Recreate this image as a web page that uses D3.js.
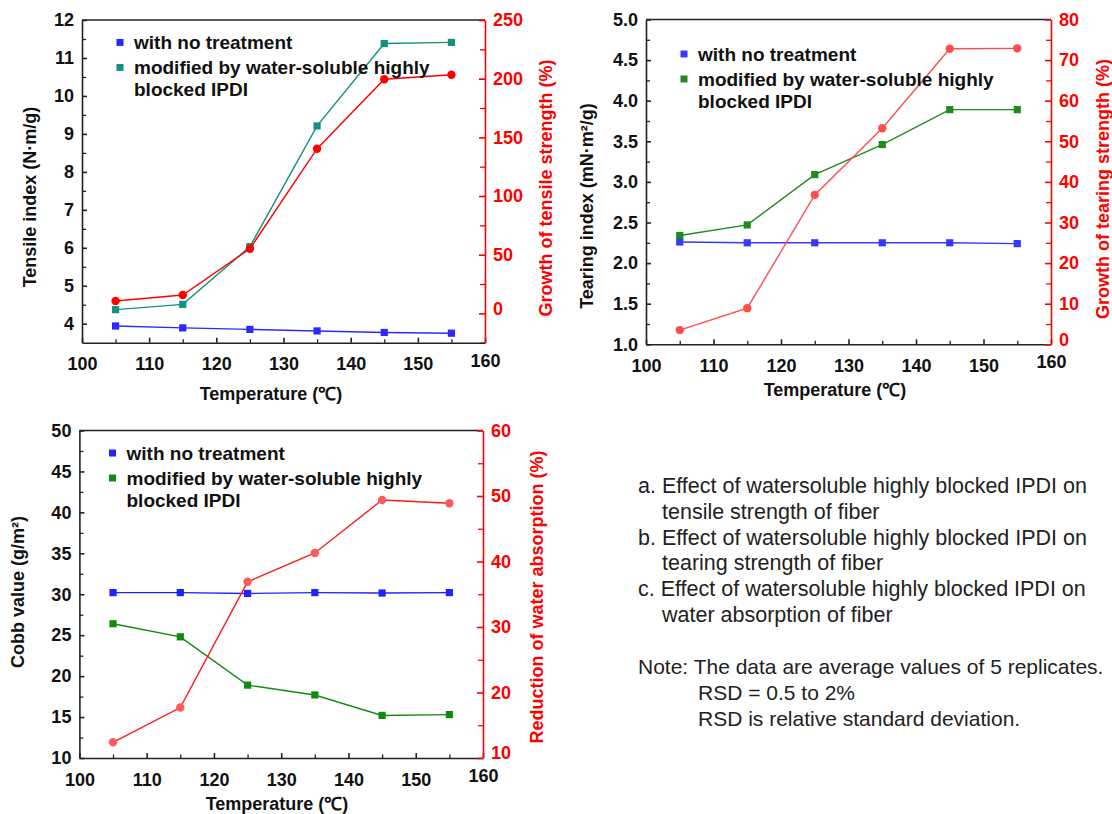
<!DOCTYPE html>
<html>
<head>
<meta charset="utf-8">
<script src="https://cdn.jsdelivr.net/npm/d3@7"></script>
<style>
  body { margin: 0; background: #fff; overflow: hidden; }
  svg { display: block; }
  text { font-family: "Liberation Sans", Arial, sans-serif; }
</style>
</head>
<body>
<div id="chart"></div>
<script>
const width = 1112;
const height = 814;

// data
const temps = [105, 115, 125, 135, 145, 155];

const tensileUntreated = [3.94, 3.89, 3.85, 3.81, 3.77, 3.75];
const tensileModified = [4.37, 4.51, 6.03, 9.21, 11.38, 11.41];
const tensileGrowth = [10.5, 15.6, 55.1, 140.3, 199.5, 203.4];

const tearingUntreated = [2.26, 2.25, 2.25, 2.25, 2.25, 2.24];
const tearingModified = [2.34, 2.47, 3.09, 3.46, 3.89, 3.89];
const tearingGrowth = [3.5, 8.9, 36.8, 53.2, 72.8, 72.9];

const cobbUntreated = [30.2, 30.2, 30.1, 30.2, 30.15, 30.2];
const cobbModified = [26.4, 24.8, 18.9, 17.7, 15.2, 15.3];
const absorptionReduction = [12.4, 17.7, 36.9, 41.3, 49.4, 48.9];

const xTicks = [100, 110, 120, 130, 140, 150, 160];
const tensileTicks = [4, 5, 6, 7, 8, 9, 10, 11, 12];
const tensileGrowthTicks = [0, 50, 100, 150, 200, 250];
const tearingTicks = [1.0, 1.5, 2.0, 2.5, 3.0, 3.5, 4.0, 4.5, 5.0];
const tearingGrowthTicks = [0, 10, 20, 30, 40, 50, 60, 70, 80];
const cobbTicks = [10, 15, 20, 25, 30, 35, 40, 45, 50];
const absorptionTicks = [10, 20, 30, 40, 50, 60];

const legendLabels = ["with no treatment", "modified by water-soluble highly", "blocked IPDI"];

const notes = [
  {t: "a. Effect of watersoluble highly blocked IPDI on", x: 638},
  {t: "tensile strength of fiber", x: 662},
  {t: "b. Effect of watersoluble highly blocked IPDI on", x: 638},
  {t: "tearing strength of fiber", x: 662},
  {t: "c. Effect of watersoluble highly blocked IPDI on", x: 638},
  {t: "water absorption of fiber", x: 662}
];
const noteLines = [
  {t: "Note: The data are average values of 5 replicates.", x: 638},
  {t: "RSD = 0.5 to 2%", x: 698},
  {t: "RSD is relative standard deviation.", x: 698}
];

const svg = d3.select("#chart").append("svg")
  .attr("width", width)
  .attr("height", height);

function drawPanel(p) {
  const g = svg.append("g");

  const x = d3.scaleLinear().domain([100, 160]).range([p.left, p.right]);
  const yL = d3.scaleLinear().domain(p.yLDomain).range([p.bottom, p.top]);
  const yR = d3.scaleLinear().domain(p.yRDomain).range([p.bottom, p.top]);

  // top border
  g.append("line")
    .attr("x1", p.left).attr("x2", p.right)
    .attr("y1", p.top).attr("y2", p.top)
    .attr("stroke", "#222").attr("stroke-width", 1.6);

  // minor ticks
  g.append("g")
    .attr("transform", `translate(0,${p.bottom})`)
    .call(d3.axisBottom(x).tickValues(d3.range(105, 160, 10)).tickSize(-3.5).tickSizeOuter(0).tickFormat(""))
    .call(a => a.select(".domain").remove())
    .call(a => a.selectAll("line").attr("stroke", "#222").attr("stroke-width", 1.3));
  g.append("g")
    .attr("transform", `translate(${p.left},0)`)
    .call(d3.axisLeft(yL).tickValues(p.yLMinor).tickSize(-4).tickFormat(""))
    .call(a => a.select(".domain").remove())
    .call(a => a.selectAll("line").attr("stroke", "#222").attr("stroke-width", 1.3));
  g.append("g")
    .attr("transform", `translate(${p.right},0)`)
    .call(d3.axisRight(yR).tickValues(p.yRMinor).tickSize(-5).tickFormat(""))
    .call(a => a.select(".domain").remove())
    .call(a => a.selectAll("line").attr("stroke", "red").attr("stroke-width", 1.3));

  // major axes
  const xAxis = g.append("g")
    .attr("transform", `translate(0,${p.bottom})`)
    .call(d3.axisBottom(x).tickValues(xTicks).tickSize(-5).tickSizeOuter(0).tickPadding(15));
  xAxis.selectAll("line, path").attr("stroke", "#222").attr("stroke-width", 1.6);
  xAxis.selectAll("text").attr("fill", "#111")
    .style("font-size", "18px").style("font-weight", "bold")
    .attr("dy", d => d === 160 ? "0.5em" : "0.71em");

  const yAxisL = g.append("g")
    .attr("transform", `translate(${p.left},0)`)
    .call(d3.axisLeft(yL).tickValues(p.yLTicks).tickSize(-5).tickSizeOuter(0).tickPadding(8).tickFormat(p.yLFormat));
  yAxisL.selectAll("line, path").attr("stroke", "#222").attr("stroke-width", 1.6);
  yAxisL.selectAll("text").attr("fill", "#111").style("font-size", "18px").style("font-weight", "bold");

  const yAxisR = g.append("g")
    .attr("transform", `translate(${p.right},0)`)
    .call(d3.axisRight(yR).tickValues(p.yRTicks).tickSize(-6).tickSizeOuter(0).tickPadding(8));
  yAxisR.selectAll("line, path").attr("stroke", "red").attr("stroke-width", 1.6);
  yAxisR.selectAll("text").attr("fill", "red").style("font-size", "18px").style("font-weight", "bold")
    .attr("dy", (d, i) => i === 0 ? "0.05em" : "0.32em");

  // axis titles
  g.append("text")
    .attr("x", p.xTitle[0]).attr("y", p.xTitle[1])
    .attr("text-anchor", "middle")
    .style("font-size", "18px").style("font-weight", "bold").attr("fill", "#111")
    .text("Temperature (℃)");
  g.append("text")
    .attr("transform", `translate(${p.yLTitle[0]},${p.yLTitle[1]}) rotate(-90)`)
    .attr("text-anchor", "middle").attr("dy", "0.35em")
    .style("font-size", "18px").style("font-weight", "bold").attr("fill", "#111")
    .text(p.yLLabel);
  g.append("text")
    .attr("transform", `translate(${p.yRTitle[0]},${p.yRTitle[1]}) rotate(-90)`)
    .attr("text-anchor", "middle").attr("dy", "0.35em")
    .style("font-size", "18px").style("font-weight", "bold").attr("fill", "red")
    .text(p.yRLabel);

  // series
  const pts = vals => temps.map((t, i) => ({x: t, y: vals[i]}));
  const series = [
    {vals: p.untreated, scale: yL, color: p.blue, shape: "square"},
    {vals: p.modified, scale: yL, color: p.green, shape: "square"},
    {vals: p.growth, scale: yR, color: p.red, fill: p.redMarker, shape: "circle"}
  ];
  series.forEach(s => {
    const data = pts(s.vals);
    const line = d3.line().x(d => x(d.x)).y(d => s.scale(d.y));
    g.append("path")
      .attr("d", line(data))
      .attr("fill", "none")
      .attr("stroke", s.color)
      .attr("stroke-width", 1.4);
    if (s.shape === "square") {
      g.selectAll(null).data(data).enter().append("rect")
        .attr("x", d => x(d.x) - 3.6).attr("y", d => s.scale(d.y) - 3.6)
        .attr("width", 7.2).attr("height", 7.2)
        .attr("fill", s.color);
    } else {
      g.selectAll(null).data(data).enter().append("circle")
        .attr("cx", d => x(d.x)).attr("cy", d => s.scale(d.y))
        .attr("r", 4.2)
        .attr("fill", s.fill || s.color);
    }
  });

  // legend
  const lg = g.append("g").attr("transform", `translate(${p.legend[0]},${p.legend[1]})`);
  lg.append("rect").attr("x", -3.5).attr("y", -3.5).attr("width", 7).attr("height", 7).attr("fill", p.blue);
  lg.append("rect").attr("x", -3.5).attr("y", p.legendGap - 3.5).attr("width", 7).attr("height", 7).attr("fill", p.green);
  lg.selectAll("text.leg").data(legendLabels).enter().append("text")
    .attr("class", "leg")
    .attr("x", 14)
    .attr("y", (d, i) => i === 0 ? 0 : p.legendGap + (i - 1) * 22)
    .attr("dy", "0.35em")
    .style("font-size", "19px").style("font-weight", "bold").attr("fill", "#111")
    .text(d => d);
}

drawPanel({
  left: 82, right: 485, top: 20, bottom: 342.7,
  yLDomain: [3.5, 12], yRDomain: [-25, 250],
  yLTicks: tensileTicks, yLMinor: d3.range(4.5, 12, 1), yLFormat: d3.format("d"),
  yRTicks: tensileGrowthTicks, yRMinor: d3.range(-25, 250, 50),
  untreated: tensileUntreated, modified: tensileModified, growth: tensileGrowth,
  blue: "#2a2aff", green: "#16907f", red: "#ff0000", redMarker: "#ff0000",
  xTitle: [271, 400], yLTitle: [30, 197], yRTitle: [546, 188],
  yLLabel: "Tensile index (N·m/g)", yRLabel: "Growth of tensile strength (%)",
  legend: [120, 42.5], legendGap: 25
});

drawPanel({
  left: 646, right: 1051, top: 19.5, bottom: 344.3,
  yLDomain: [1, 5], yRDomain: [0, 80],
  yLTicks: tearingTicks, yLMinor: d3.range(1.25, 5, 0.5), yLFormat: d3.format(".1f"),
  yRTicks: tearingGrowthTicks, yRMinor: d3.range(5, 80, 10),
  untreated: tearingUntreated, modified: tearingModified, growth: tearingGrowth,
  blue: "#3838ff", green: "#1e8c1e", red: "#ff4c4c", redMarker: "#ff4c4c",
  xTitle: [835, 396], yLTitle: [587, 206], yRTitle: [1103, 189],
  yLLabel: "Tearing index (mN·m²/g)", yRLabel: "Growth of tearing strength (%)",
  legend: [684, 54], legendGap: 25
});

drawPanel({
  left: 79.4, right: 483, top: 430.5, bottom: 758,
  yLDomain: [10, 50], yRDomain: [10, 60],
  yLTicks: cobbTicks, yLMinor: d3.range(12.5, 50, 5), yLFormat: d3.format("d"),
  yRTicks: absorptionTicks, yRMinor: d3.range(15, 60, 10),
  untreated: cobbUntreated, modified: cobbModified, growth: absorptionReduction,
  blue: "#2222ff", green: "#128a12", red: "#ff1a1a", redMarker: "#ff5a5a",
  xTitle: [277, 810], yLTitle: [18, 592], yRTitle: [537, 597],
  yLLabel: "Cobb value (g/m²)", yRLabel: "Reduction of water absorption (%)",
  legend: [112.5, 453], legendGap: 25
});

// caption text
svg.selectAll("text.note").data(notes).enter().append("text")
  .attr("class", "note")
  .attr("x", d => d.x)
  .attr("y", (d, i) => 493 + i * 25.8)
  .style("font-size", "21.5px").attr("fill", "#222")
  .text(d => d.t);

svg.selectAll("text.note2").data(noteLines).enter().append("text")
  .attr("class", "note2")
  .attr("x", d => d.x)
  .attr("y", (d, i) => 674 + i * 26)
  .style("font-size", "21px").attr("fill", "#222")
  .text(d => d.t);
</script>
</body>
</html>
